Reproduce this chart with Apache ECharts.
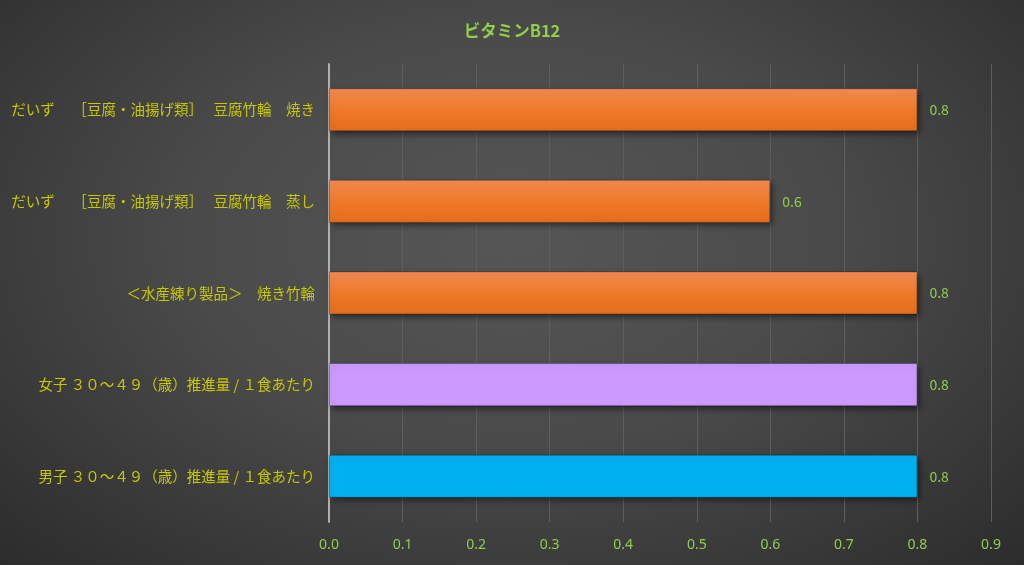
<!DOCTYPE html>
<html><head><meta charset="utf-8">
<script src="https://cdn.jsdelivr.net/npm/echarts@6/dist/echarts.min.js"></script>
<style>html,body{margin:0;padding:0;background:#2b2b2b}#c{width:1024px;height:565px;background:radial-gradient(ellipse at 50% 42%,#565656 0%,#4a4a4a 45%,#2c2c2c 100%)}</style>
</head><body><div id="c"></div>
<script>
const title = 'ビタミンB12';
const categories = [
  '男子 ３０～４９（歳）推進量 / １食あたり',
  '女子 ３０～４９（歳）推進量 / １食あたり',
  '＜水産練り製品＞　焼き竹輪',
  'だいず　 ［豆腐・油揚げ類］　 豆腐竹輪　蒸し',
  'だいず　 ［豆腐・油揚げ類］　 豆腐竹輪　焼き'
];
const values = [0.8, 0.8, 0.8, 0.6, 0.8];
const xTicks = {min: 0, max: 0.9, interval: 0.1};

const orange = {type:'linear',x:0,y:0,x2:0,y2:1,colorStops:[{offset:0,color:'#f28a52'},{offset:0.5,color:'#f07a2a'},{offset:1,color:'#e46c1c'}]};
const barColors = ['#00b0f0', '#cc99ff', orange, orange, orange];
const fontFam = '"Noto Sans CJK JP","Noto Sans",sans-serif';

const chart = echarts.init(document.getElementById('c'), null, {renderer:'canvas'});
chart.setOption({
  backgroundColor: 'transparent',
  animation: false,
  title: {text: title, left: 'center', top: 17, textStyle:{color:'#8fcf4a', fontSize:16.5, fontWeight:'bold', fontFamily: fontFam}},
  grid: {left: 329, right: 33, top: 64, bottom: 43, containLabel: false},
  xAxis: {type:'value', min: xTicks.min, max: xTicks.max, interval: xTicks.interval,
    axisLine:{show:false}, axisTick:{show:false},
    splitLine:{show:true, lineStyle:{color:'#5e5e5e', width:1}},
    axisLabel:{color:'#8fcf4a', fontSize:14, margin:16, fontFamily:'"Liberation Sans Narrow","Noto Sans",sans-serif', formatter: v => v.toFixed(1)}},
  yAxis: {type:'category', data: categories,
    axisLine:{show:true, lineStyle:{color:'#b0b0b0', width:2}}, axisTick:{show:false},
    axisLabel:{color:'#c8c800', fontSize:14.5, margin:14, fontFamily: fontFam}},
  series: [{type:'bar', barWidth:'47%',
    data: values.map((v,i)=>({value:v, itemStyle:{color: barColors[i]}})),
    itemStyle:{shadowColor:'rgba(0,0,0,0.5)', shadowBlur:6, shadowOffsetX:2, shadowOffsetY:3, borderColor:'rgba(0,0,0,0.25)', borderWidth:1},
    label:{show:true, position:'right', distance:12, color:'#8fcf4a', fontSize:14, fontFamily: fontFam, formatter: p => p.value.toFixed(1)}
  }]
});
</script></body></html>
